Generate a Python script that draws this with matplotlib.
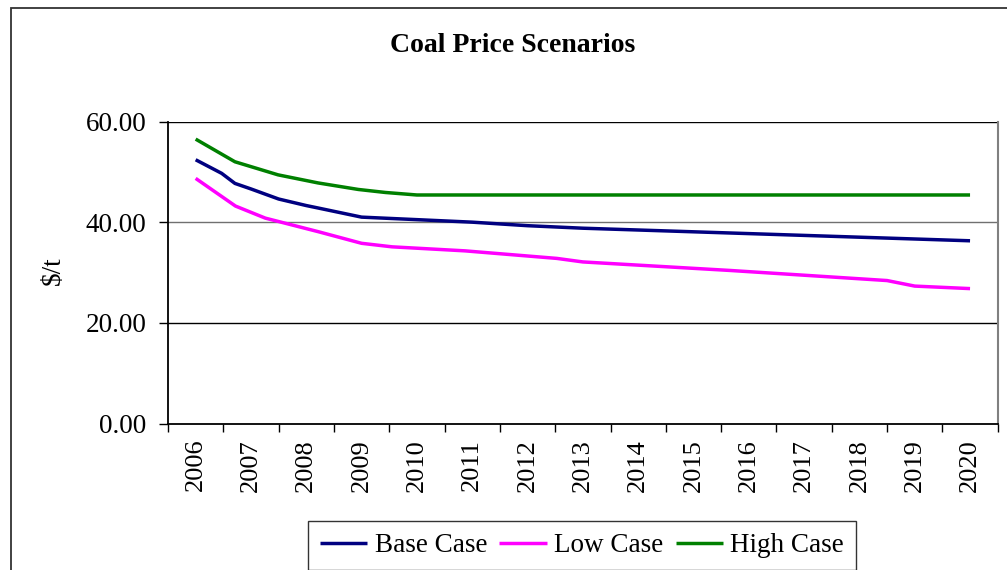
import matplotlib
matplotlib.use("Agg")
import matplotlib.pyplot as plt
from matplotlib.patches import Rectangle

plt.rcParams['font.family'] = ['Liberation Serif', 'DejaVu Serif']

# ---- data ----
years = list(range(2006, 2021))

base_x = [2006, 2006.47, 2006.71, 2007, 2007.5, 2008, 2008.22, 2009, 2010, 2011, 2012, 2013, 2020]
base_y = [52.4, 49.7, 47.7, 46.6, 44.6, 43.3, 42.8, 41.0, 40.5, 40.0, 39.3, 38.8, 36.3]

low_x = [2006, 2006.72, 2007.26, 2008.22, 2009, 2009.55, 2010.87, 2012.53, 2013, 2015.67, 2018.5, 2019, 2020]
low_y = [48.7, 43.2, 40.8, 38.1, 35.8, 35.1, 34.3, 32.8, 32.1, 30.4, 28.4, 27.3, 26.8]

high_x = [2006, 2006.71, 2007.49, 2008.21, 2008.94, 2009.43, 2010, 2020]
high_y = [56.5, 52.0, 49.4, 47.8, 46.5, 45.9, 45.4, 45.4]

series_names = ["Base Case", "Low Case", "High Case"]
series_colors = ["#000080", "#FF00FF", "#008000"]

W, H = 1007, 570
fig = plt.figure(figsize=(W / 100, H / 100), dpi=100)

# outer chart border
fig.patches.append(Rectangle((11 / W, 1 - 580 / H), 1010 / W, 572 / H,
                             transform=fig.transFigure, fill=False,
                             edgecolor="#333333", linewidth=1.3))

ax = fig.add_axes([168 / W, 1 - 423.5 / H, 829.7 / W, 302 / H])

for xs, ys, name, col in zip([base_x, low_x, high_x], [base_y, low_y, high_y],
                             series_names, series_colors):
    ax.plot(xs, ys, color=col, linewidth=2.5, label=name,
            solid_joinstyle="round", solid_capstyle="butt", zorder=3)

ax.set_xlim(2005.5, 2020.5)
ax.set_ylim(0, 60)
ax.set_yticks([0, 20, 40, 60])
ax.set_yticklabels([f"{v:.2f}" for v in [0, 20, 40, 60]])
ax.set_xticks(years)
ax.set_xticklabels([str(y) for y in years], rotation=90)
ax.set_xticks([y - 0.5 for y in years] + [2020.5], minor=True)

ax.tick_params(axis="x", which="major", length=0, pad=11, labelsize=19)
ax.tick_params(axis="x", which="minor", length=6, width=1, direction="out", color="black")
ax.tick_params(axis="y", length=6.5, width=1, direction="out", pad=9, labelsize=19.5)

for v in [20, 40, 60]:
    ax.axhline(v, color="black" if v != 40 else "#707070", linewidth=1.0, zorder=1)

ax.spines["top"].set_visible(False)
ax.spines["left"].set_linewidth(1.3)
ax.spines["bottom"].set_linewidth(1.3)
ax.spines["right"].set_color("#808080")
ax.spines["right"].set_linewidth(1.5)

fig.text(53 / W, 1 - 271 / H, "$/t", rotation=90, ha="center", va="center", fontsize=19.5)
fig.text(513 / W, 1 - 45 / H, "Coal Price Scenarios", ha="center", va="center",
         fontsize=20, fontweight="bold")

leg = fig.legend(loc="upper center", bbox_to_anchor=(582 / W, 1 - 521 / H), ncol=3,
                 fontsize=19.5, frameon=True, fancybox=False, borderpad=0.45,
                 handlelength=1.75, handletextpad=0.27, columnspacing=0.45,
                 borderaxespad=0)
leg.get_frame().set_edgecolor("black")
leg.get_frame().set_linewidth(1.0)

fig.savefig("out.png", dpi=100)
